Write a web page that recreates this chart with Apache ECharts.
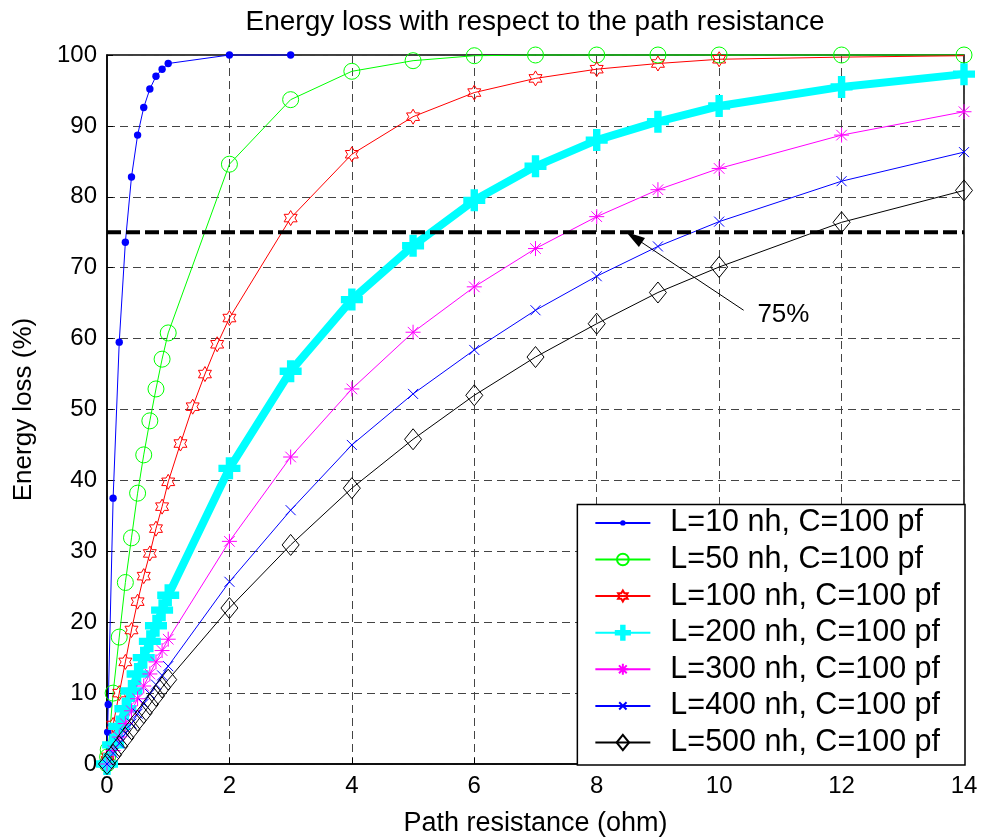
<!DOCTYPE html>
<html>
<head>
<meta charset="utf-8">
<title>Energy loss with respect to the path resistance</title>
<script src="https://cdn.jsdelivr.net/npm/echarts@6/dist/echarts.min.js"></script>
<style>
  html, body { margin: 0; padding: 0; background: #fff; }
  #chart { width: 982px; height: 838px; }
</style>
</head>
<body>
<div id="chart"></div>
<script>
// Path resistance samples (ohm)
const R_L10 = [0, 0.01, 0.02, 0.1, 0.2, 0.3, 0.4, 0.5, 0.6, 0.7, 0.8, 0.9, 1, 2, 3];
const R_L50 = [0, 0.01, 0.02, 0.1, 0.2, 0.3, 0.4, 0.5, 0.6, 0.7, 0.8, 0.9, 1, 2, 3, 4, 5, 6, 7, 8, 9, 10, 12, 14];
const R_L100 = [0, 0.01, 0.02, 0.1, 0.2, 0.3, 0.4, 0.5, 0.6, 0.7, 0.8, 0.9, 1, 1.2, 1.4, 1.6, 1.8, 2, 3, 4, 5, 6, 7, 8, 9, 10, 12, 14];
const R_STD = [0, 0.1, 0.2, 0.3, 0.4, 0.5, 0.6, 0.7, 0.8, 0.9, 1, 2, 3, 4, 5, 6, 7, 8, 9, 10, 12, 14];

// Energy loss (%) for each inductance, C = 100 pf
const E_L10 = [0, 4.5, 8.4, 37.5, 59.5, 73.6, 82.8, 88.7, 92.6, 95.2, 97.0, 98.0, 98.8, 100, 100];
const E_L50 = [0, 1.0, 2.0, 10.0, 17.9, 25.6, 31.9, 38.2, 43.6, 48.4, 52.9, 57.1, 60.8, 84.6, 93.7, 97.7, 99.2, 99.9, 100, 100, 100, 100, 100, 100];
const E_L100 = [0, 0.5, 1.0, 5.5, 10.0, 14.4, 18.9, 22.9, 26.5, 29.7, 33.2, 36.3, 39.8, 45.2, 50.4, 55.0, 59.2, 62.9, 77.0, 86.0, 91.3, 94.7, 96.7, 98.0, 98.8, 99.4, 99.7, 99.9];
const E_L200 = [0, 2.7, 5.3, 7.8, 10.3, 12.7, 15.0, 17.3, 19.5, 21.7, 23.8, 41.7, 55.4, 65.5, 73.1, 79.5, 84.3, 88.0, 90.6, 92.8, 95.5, 97.3];
const E_L300 = [0, 1.9, 3.8, 5.7, 7.5, 9.2, 11.0, 12.7, 14.4, 16.0, 17.6, 31.4, 43.3, 52.9, 60.9, 67.3, 72.7, 77.2, 81.0, 84.0, 88.7, 92.0];
const E_L400 = [0, 1.5, 2.9, 4.3, 5.7, 7.1, 8.5, 9.9, 11.2, 12.5, 13.8, 25.7, 35.8, 45.0, 52.2, 58.4, 64.0, 68.8, 73.0, 76.5, 82.2, 86.3];
const E_L500 = [0, 1.3, 2.5, 3.7, 4.9, 6.1, 7.2, 8.4, 9.6, 10.8, 11.9, 22.0, 30.9, 38.9, 45.8, 52.0, 57.4, 62.1, 66.5, 70.1, 76.4, 80.9];

// Resistances on the L=100 curve drawn as line only (marker hidden under the L=50 circles)
const L100_UNMARKED = [12, 14];

const SERIES_NAMES = [
  'L=10 nh, C=100 pf', 'L=50 nh, C=100 pf', 'L=100 nh, C=100 pf', 'L=200 nh, C=100 pf',
  'L=300 nh, C=100 pf', 'L=400 nh, C=100 pf', 'L=500 nh, C=100 pf'
];

// Threshold line and its note
const THRESHOLD = 75;
const THRESHOLD_SPAN = [0, 14];
const NOTE_TEXT = '75%';
const NOTE_ARROW_FROM = [10.4, 64.0];
const NOTE_ARROW_TO = [8.66, 74.0];
const NOTE_HEAD_AT = [8.61, 74.3];
const NOTE_TEXT_AT = [11.05, 63.4];

const X_TICKS = { min: 0, max: 14, interval: 2 };
const Y_TICKS = { min: 0, max: 100, interval: 10 };

const FONT = 'Liberation Sans, Arial, sans-serif';

// Marker shapes, all framed in a 24x24 box so symbolSize 24 => 1 unit = 1px
const FRAME = 'M-12,-12 M12,12 ';
const SYM = {
  dot: 'path://' + FRAME + 'M3.7,0 A3.7,3.7 0 1,1 -3.7,0 A3.7,3.7 0 1,1 3.7,0 Z',
  circle: 'path://' + FRAME + 'M8,0 A8,8 0 1,1 -8,0 A8,8 0 1,1 8,0 Z',
  hexagram: 'path://' + FRAME + 'M0,-7.5 L2.17,-3.75 L6.5,-3.75 L4.33,0 L6.5,3.75 L2.17,3.75 L0,7.5 L-2.17,3.75 L-6.5,3.75 L-4.33,0 L-6.5,-3.75 L-2.17,-3.75 Z',
  plus: 'path://' + FRAME + 'M-3.7,-11 L3.7,-11 L3.7,-3.7 L11,-3.7 L11,3.7 L3.7,3.7 L3.7,11 L-3.7,11 L-3.7,3.7 L-11,3.7 L-11,-3.7 L-3.7,-3.7 Z',
  asterisk: 'path://' + FRAME + 'M0,-7.5 L0,7.5 M-7.5,0 L7.5,0 M-5.3,-5.3 L5.3,5.3 M-5.3,5.3 L5.3,-5.3',
  cross: 'path://' + FRAME + 'M-5,-5 L5,5 M-5,5 L5,-5',
  diamond: 'path://' + FRAME + 'M0,-10.5 L8.5,0 L0,10.5 L-8.5,0 Z'
};

function pairs(xs, ys, unmarked) {
  return xs.map((x, i) => {
    if (unmarked && unmarked.indexOf(x) >= 0) {
      return { value: [x, ys[i]], symbol: 'none' };
    }
    return [x, ys[i]];
  });
}

function curve(name, xs, ys, color, symbol, opts) {
  opts = opts || {};
  return {
    name: name,
    type: 'line',
    data: pairs(xs, ys, opts.unmarked),
    symbol: symbol,
    symbolSize: 24,
    showAllSymbol: true,
    clip: false,
    color: color,
    lineStyle: { color: color, width: opts.lineWidth || 1 },
    itemStyle: opts.filled
      ? { color: color, borderWidth: 0 }
      : { color: 'rgba(0,0,0,0)', borderColor: color, borderWidth: 1 },
    emphasis: { disabled: true },
    z: 3
  };
}

const chart = echarts.init(document.getElementById('chart'), null, { renderer: 'canvas' });

const option = {
  animation: false,
  backgroundColor: '#ffffff',
  title: {
    text: 'Energy loss with respect to the path resistance',
    left: 535,
    top: 8,
    textAlign: 'center',
    padding: 0,
    textStyle: { fontFamily: FONT, fontSize: 28, fontWeight: 'normal', color: '#000' }
  },
  grid: {
    left: 107, right: 18, top: 55, bottom: 74,
    outerBoundsMode: 'none',
    containLabel: false,
    show: true, borderColor: '#000', borderWidth: 1.5, backgroundColor: 'transparent'
  },
  legend: {
    data: SERIES_NAMES,
    orient: 'vertical',
    right: 17,
    bottom: 73,
    backgroundColor: '#fff',
    borderColor: '#000',
    borderWidth: 1.5,
    padding: [3, 25, 7, 17],
    itemWidth: 55,
    itemHeight: 22,
    itemGap: 5.6,
    selectedMode: false,
    textStyle: { fontFamily: FONT, fontSize: 30.5, color: '#000', padding: [0, 0, 0, 15] },
    z: 10
  },
  xAxis: {
    type: 'value',
    min: X_TICKS.min, max: X_TICKS.max, interval: X_TICKS.interval,
    name: 'Path resistance (ohm)',
    nameLocation: 'middle',
    nameGap: 46,
    nameTextStyle: { fontFamily: FONT, fontSize: 27, color: '#000' },
    axisLine: { show: true, onZero: false, lineStyle: { color: '#000', width: 1.5 } },
    axisTick: { show: true, inside: true, length: 6, lineStyle: { color: '#000' } },
    axisLabel: { fontFamily: FONT, fontSize: 24, color: '#000', margin: 10 },
    splitLine: { show: true, lineStyle: { color: '#444', width: 1, type: [8, 5] } }
  },
  yAxis: {
    type: 'value',
    min: Y_TICKS.min, max: Y_TICKS.max, interval: Y_TICKS.interval,
    name: 'Energy loss (%)',
    nameLocation: 'middle',
    nameRotate: 90,
    nameGap: 70,
    nameTextStyle: { fontFamily: FONT, fontSize: 26, color: '#000' },
    axisLine: { show: true, onZero: false, lineStyle: { color: '#000', width: 1.5 } },
    axisTick: { show: true, inside: true, length: 6, lineStyle: { color: '#000' } },
    axisLabel: { fontFamily: FONT, fontSize: 24, color: '#000', margin: 10 },
    splitLine: { show: true, lineStyle: { color: '#444', width: 1, type: [8, 5] } }
  },
  series: [
    curve(SERIES_NAMES[0], R_L10, E_L10, '#0000ff', SYM.dot, { filled: true }),
    curve(SERIES_NAMES[1], R_L50, E_L50, '#00ff00', SYM.circle),
    curve(SERIES_NAMES[2], R_L100, E_L100, '#ff0000', SYM.hexagram, { unmarked: L100_UNMARKED }),
    curve(SERIES_NAMES[3], R_STD, E_L200, '#00ffff', SYM.plus, { filled: true, lineWidth: 8 }),
    curve(SERIES_NAMES[4], R_STD, E_L300, '#ff00ff', SYM.asterisk),
    curve(SERIES_NAMES[5], R_STD, E_L400, '#0000ff', SYM.cross),
    curve(SERIES_NAMES[6], R_STD, E_L500, '#000000', SYM.diamond),
    {
      name: 'threshold',
      type: 'line',
      data: THRESHOLD_SPAN.map(x => [x, THRESHOLD]),
      symbol: 'none',
      clip: false,
      lineStyle: { color: '#000', width: 4, type: [14, 5] },
      emphasis: { disabled: true },
      z: 4
    },
    {
      name: 'note',
      type: 'line',
      data: [],
      z: 5,
      markLine: {
        silent: true,
        animation: false,
        symbol: ['none', 'none'],
        lineStyle: { color: '#000', width: 1, type: 'solid' },
        label: { show: false },
        data: [[
          { coord: NOTE_ARROW_FROM },
          { coord: NOTE_ARROW_TO }
        ]]
      },
      markPoint: {
        silent: true,
        animation: false,
        data: [
          {
            coord: NOTE_HEAD_AT,
            symbol: 'triangle',
            symbolSize: [11, 19],
            symbolRotate: 56,
            itemStyle: { color: '#000' },
            label: { show: false }
          },
          {
            coord: NOTE_TEXT_AT,
            symbol: 'rect',
            symbolSize: 0,
            itemStyle: { color: 'rgba(0,0,0,0)' },
            label: {
              show: true, position: 'inside', formatter: NOTE_TEXT,
              fontFamily: FONT, fontSize: 26, color: '#000'
            }
          }
        ]
      }
    }
  ]
};

chart.setOption(option);
</script>
</body>
</html>
